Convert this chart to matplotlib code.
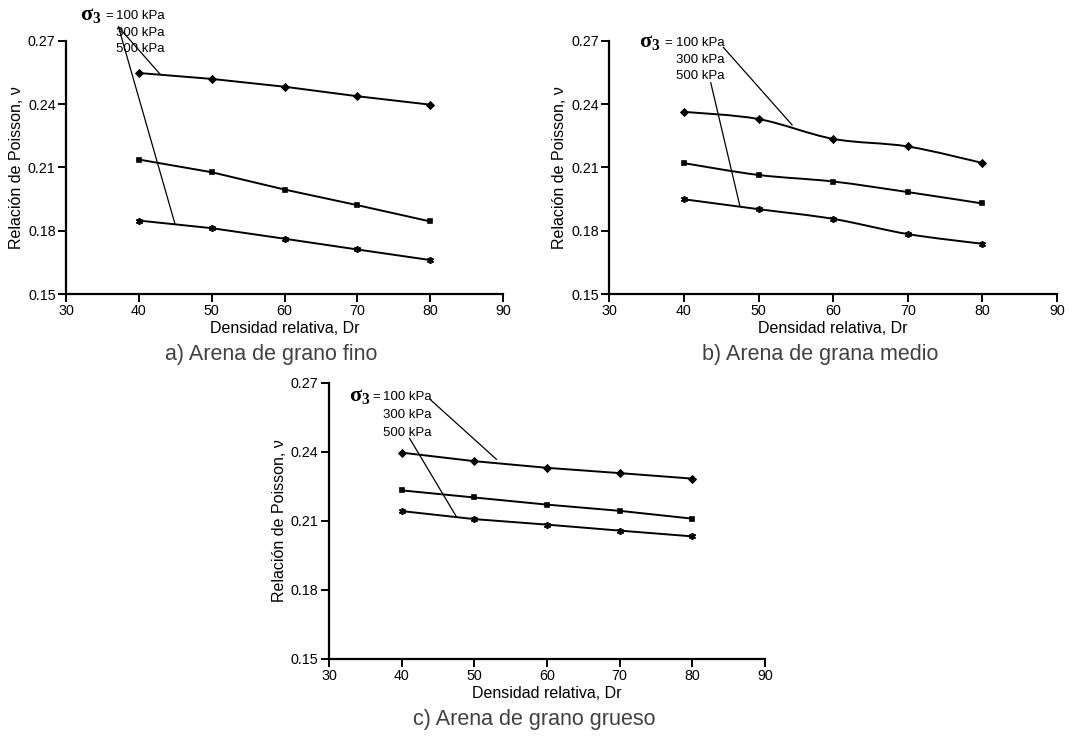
import matplotlib.pyplot as plt
import numpy as np
from matplotlib.path import Path
from matplotlib.patches import PathPatch

plt.rcParams['font.family'] = ['Liberation Sans', 'DejaVu Sans']

# datos
dr = [40, 50, 60, 70, 80]
niveles = ['100 kPa', '300 kPa', '500 kPa']

fino_100 = [0.2547, 0.2519, 0.2482, 0.2437, 0.2397]
fino_300 = [0.2137, 0.2077, 0.1995, 0.1921, 0.1844]
fino_500 = [0.1848, 0.1812, 0.1762, 0.1711, 0.1661]

medio_100 = [0.2363, 0.2329, 0.2235, 0.2199, 0.2121]
medio_300 = [0.2120, 0.2064, 0.2033, 0.1983, 0.1929]
medio_500 = [0.1949, 0.1902, 0.1856, 0.1784, 0.1738]

grueso_100 = [0.2396, 0.2359, 0.2330, 0.2307, 0.2283]
grueso_300 = [0.2232, 0.2201, 0.2170, 0.2143, 0.2109]
grueso_500 = [0.2142, 0.2107, 0.2083, 0.2057, 0.2032]

titulos = ['a) Arena de grano fino', 'b) Arena de grana medio', 'c) Arena de grano grueso']

marcadores = ['D', 's', (6, 2, 0)]
tam_marc = [3.5, 3.5, 5]


def curva_suave(ax, x, y):
    # curva tipo Catmull-Rom (linea suavizada) con beziers cubicos
    x = np.asarray(x, float)
    y = np.asarray(y, float)
    px = np.concatenate([[x[0]], x, [x[-1]]])
    py = np.concatenate([[y[0]], y, [y[-1]]])
    verts = [(x[0], y[0])]
    codes = [Path.MOVETO]
    for i in range(1, len(px) - 2):
        c1 = (px[i] + (px[i + 1] - px[i - 1]) / 6, py[i] + (py[i + 1] - py[i - 1]) / 6)
        c2 = (px[i + 1] - (px[i + 2] - px[i]) / 6, py[i + 1] - (py[i + 2] - py[i]) / 6)
        verts += [c1, c2, (px[i + 1], py[i + 1])]
        codes += [Path.CURVE4] * 3
    ax.add_patch(PathPatch(Path(verts, codes), fill=False, color='black', lw=1.4))


def panel(rect, series, titulo, suave, txt_pos, flechas, fig):
    ax = fig.add_axes(rect)
    for k, s in enumerate(series):
        if suave:
            curva_suave(ax, dr, s)
            ax.plot(dr, s, linestyle='none', marker=marcadores[k], ms=tam_marc[k],
                    color='black', mew=1.2)
        else:
            ax.plot(dr, s, color='black', lw=1.4, marker=marcadores[k], ms=tam_marc[k], mew=1.2)
    ax.set_xlim(30, 90)
    ax.set_ylim(0.15, 0.27)
    ax.set_xticks([30, 40, 50, 60, 70, 80, 90])
    ax.set_yticks([0.15, 0.18, 0.21, 0.24, 0.27])
    ax.set_yticklabels(['0.15', '0.18', '0.21', '0.24', '0.27'])
    for sp in ['top', 'right']:
        ax.spines[sp].set_visible(False)
    for sp in ['left', 'bottom']:
        ax.spines[sp].set_linewidth(1.6)
    ax.tick_params(direction='out', length=5.5, width=1.4, labelsize=10.3, pad=2)
    ax.set_xlabel('Densidad relativa, Dr', fontsize=11.5, labelpad=2)
    ax.set_ylabel('Relación de Poisson, ν', fontsize=11.5, labelpad=3)

    # etiqueta sigma_3
    sx, kx, ys = txt_pos
    ax.text(sx, ys[0], r'σ$_\mathregular{3}$', fontsize=16, family='Liberation Serif',
            weight='bold', va='center', ha='left', clip_on=False)
    ax.text(kx - 0.5, ys[0], '=', fontsize=9.5, va='center', ha='right', clip_on=False)
    for yy, n in zip(ys, niveles):
        ax.text(kx, yy, n, fontsize=9.5, va='center', ha='left', clip_on=False)
    for (x0, y0, x1, y1) in flechas:
        ax.plot([x0, x1], [y0, y1], color='black', lw=0.9, clip_on=False)

    fig.text(rect[0] + rect[2] * 0.47, rect[1] - 0.082, titulo, fontsize=15.5,
             color='#404040', ha='center', va='center')
    return ax


fig = plt.figure(figsize=(10.81, 7.36), dpi=100)

panel([0.0611, 0.6005, 0.4042, 0.3442], [fino_100, fino_300, fino_500], titulos[0], False,
      (31.9, 36.9, [0.2817, 0.2738, 0.2662]),
      [(37.2, 0.2765, 42.9, 0.2542), (37.2, 0.2765, 44.95, 0.1833)], fig)

panel([0.5636, 0.6005, 0.4142, 0.3442], [medio_100, medio_300, medio_500], titulos[1], True,
      (34.0, 38.9, [0.2687, 0.2609, 0.2533]),
      [(45.3, 0.2668, 54.5, 0.2301), (43.6, 0.2501, 47.5, 0.1918)], fig)

panel([0.3043, 0.1050, 0.4033, 0.3750], [grueso_100, grueso_300, grueso_500], titulos[2], False,
      (32.7, 37.5, [0.2636, 0.2559, 0.2483]),
      [(43.9, 0.2628, 53.05, 0.2367), (41.1, 0.2458, 47.55, 0.2117)], fig)

plt.savefig('out.png', dpi=100)
